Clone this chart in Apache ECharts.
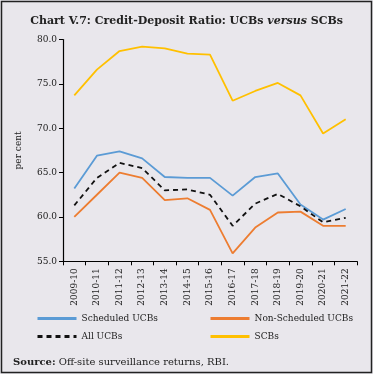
<!DOCTYPE html>
<html><head><meta charset="utf-8">
<script src="https://cdn.jsdelivr.net/npm/echarts@6/dist/echarts.min.js"></script>
<style>html,body{margin:0;padding:0;background:#fff}#c{width:373px;height:374px}</style>
</head><body><div id="c"></div>
<script>
const categories = ['2009-10','2010-11','2011-12','2012-13','2013-14','2014-15','2015-16','2016-17','2017-18','2018-19','2019-20','2020-21','2021-22'];
const scheduledUCBs = [63.2,66.9,67.4,66.6,64.5,64.4,64.4,62.4,64.5,64.9,61.4,59.7,60.9];
const nonScheduledUCBs = [60.0,62.5,65.0,64.4,61.9,62.1,60.8,55.9,58.8,60.5,60.6,59.0,59.0];
const allUCBs = [61.3,64.4,66.1,65.5,63.0,63.1,62.5,59.0,61.5,62.6,61.2,59.4,59.9];
const SCBs = [73.7,76.6,78.7,79.2,79.0,78.4,78.3,73.1,74.2,75.1,73.7,69.4,71.0];
const yTicks = {min:55, max:80, interval:5};

const serif = '"DejaVu Serif", serif';
const chart = echarts.init(document.getElementById('c'));
const mk = (name, data, color, dashed) => ({
  name, type:'line', data, symbol:'none', smooth:false,
  label:{show:false}, endLabel:{show:false},
  lineStyle:{color, width:1.8, type: dashed ? [5,4] : 'solid'},
  itemStyle:{color}
});
const names = ['Scheduled UCBs','Non-Scheduled UCBs','All UCBs','SCBs'];
const legPos = [[36,314],[209,314],[36,332],[209,332]];
const legends = names.map((n,i)=>({
  show:true, orient:'horizontal', padding:0,
  left:legPos[i][0], top:legPos[i][1],
  itemWidth:39, itemHeight:10, itemGap:4,
  itemStyle:{opacity:0},
  lineStyle:{width:3},
  textStyle:{fontFamily:serif, fontSize:9, color:'#222'},
  data:[n]
}));
chart.setOption({
  backgroundColor:'#E9E7EC',
  animation:false,
  title:{
    text:'{b|Chart V.7: Credit-Deposit Ratio: UCBs }{i|versus}{b| SCBs}',
    left:'center', top:11,
    textStyle:{rich:{
      b:{fontFamily:serif, fontWeight:'bold', fontSize:11, color:'#222'},
      i:{fontFamily:serif, fontWeight:'bold', fontStyle:'italic', fontSize:11, color:'#222'}
    }}
  },
  grid:{left:63, right:16, top:39.5, bottom:112.7, containLabel:false},
  xAxis:{
    type:'category', data:categories, boundaryGap:true,
    axisLine:{lineStyle:{color:'#000', width:1.2}},
    axisTick:{show:true, alignWithLabel:false, length:4, lineStyle:{color:'#000'}},
    axisLabel:{rotate:90, fontFamily:serif, fontSize:9, color:'#222', margin:7, interval:0}
  },
  yAxis:{
    type:'value', min:yTicks.min, max:yTicks.max, interval:yTicks.interval,
    name:'per cent', nameLocation:'middle', nameGap:40, nameRotate:90,
    nameTextStyle:{fontFamily:serif, fontSize:9, color:'#222'},
    axisLine:{show:true, lineStyle:{color:'#000', width:1.2}},
    axisTick:{show:true, length:4, lineStyle:{color:'#000'}},
    splitLine:{show:false},
    axisLabel:{fontFamily:serif, fontSize:9, color:'#222', margin:6, formatter:v=>v.toFixed(1)}
  },
  legend:legends,
  graphic:[
    {type:'rect', shape:{x:1.5, y:1.5, width:370, height:371}, style:{fill:null, stroke:'#222', lineWidth:1.5}, silent:true},
    {type:'text', left:13, top:357, style:{
      text:'{b|Source:} Off-site surveillance returns, RBI.',
      rich:{b:{fontFamily:serif, fontWeight:'bold', fontSize:10, fill:'#222'}},
      font:'10px "DejaVu Serif", serif', fill:'#222'
    }}
  ],
  series:[
    mk('Scheduled UCBs', scheduledUCBs, '#5B9BD5'),
    mk('Non-Scheduled UCBs', nonScheduledUCBs, '#ED7D31'),
    mk('All UCBs', allUCBs, '#111', true),
    mk('SCBs', SCBs, '#FFC000')
  ]
});
</script></body></html>
